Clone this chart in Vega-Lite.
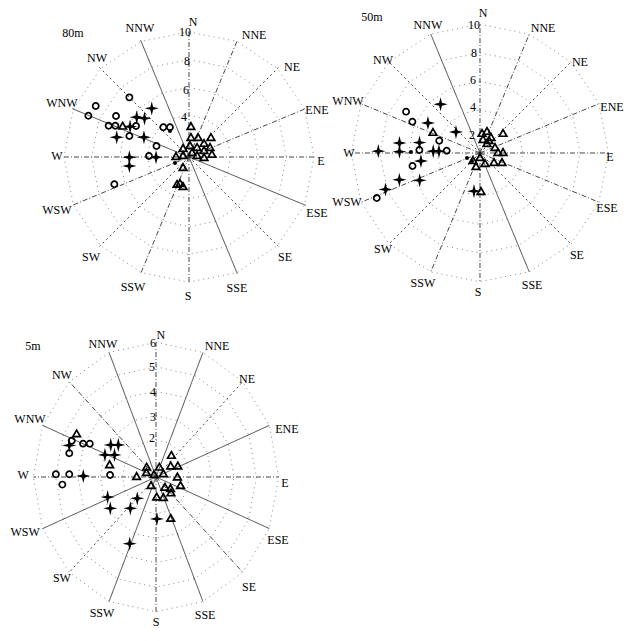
{
"$schema":"https://vega.github.io/schema/vega-lite/v6.json",
"padding":0,
"config":{"view":{"stroke":null},"axis":{"disable":true}},
"datasets":{
"ringAB":[
{"r":1,"i":0,"x":0,"y":1},{"r":1,"i":1,"x":0.383,"y":0.924},{"r":1,"i":2,"x":0.707,"y":0.707},{"r":1,"i":3,"x":0.924,"y":0.383},{"r":1,"i":4,"x":1,"y":0},{"r":1,"i":5,"x":0.924,"y":-0.383},{"r":1,"i":6,"x":0.707,"y":-0.707},{"r":1,"i":7,"x":0.383,"y":-0.924},{"r":1,"i":8,"x":0,"y":-1},{"r":1,"i":9,"x":-0.383,"y":-0.924},{"r":1,"i":10,"x":-0.707,"y":-0.707},{"r":1,"i":11,"x":-0.924,"y":-0.383},{"r":1,"i":12,"x":-1,"y":0},{"r":1,"i":13,"x":-0.924,"y":0.383},{"r":1,"i":14,"x":-0.707,"y":0.707},{"r":1,"i":15,"x":-0.383,"y":0.924},{"r":1,"i":16,"x":0,"y":1},
{"r":3,"i":0,"x":0,"y":3},{"r":3,"i":1,"x":1.148,"y":2.772},{"r":3,"i":2,"x":2.121,"y":2.121},{"r":3,"i":3,"x":2.772,"y":1.148},{"r":3,"i":4,"x":3,"y":0},{"r":3,"i":5,"x":2.772,"y":-1.148},{"r":3,"i":6,"x":2.121,"y":-2.121},{"r":3,"i":7,"x":1.148,"y":-2.772},{"r":3,"i":8,"x":0,"y":-3},{"r":3,"i":9,"x":-1.148,"y":-2.772},{"r":3,"i":10,"x":-2.121,"y":-2.121},{"r":3,"i":11,"x":-2.772,"y":-1.148},{"r":3,"i":12,"x":-3,"y":0},{"r":3,"i":13,"x":-2.772,"y":1.148},{"r":3,"i":14,"x":-2.121,"y":2.121},{"r":3,"i":15,"x":-1.148,"y":2.772},{"r":3,"i":16,"x":0,"y":3},
{"r":5,"i":0,"x":0,"y":5},{"r":5,"i":1,"x":1.913,"y":4.619},{"r":5,"i":2,"x":3.536,"y":3.536},{"r":5,"i":3,"x":4.619,"y":1.913},{"r":5,"i":4,"x":5,"y":0},{"r":5,"i":5,"x":4.619,"y":-1.913},{"r":5,"i":6,"x":3.536,"y":-3.536},{"r":5,"i":7,"x":1.913,"y":-4.619},{"r":5,"i":8,"x":0,"y":-5},{"r":5,"i":9,"x":-1.913,"y":-4.619},{"r":5,"i":10,"x":-3.536,"y":-3.536},{"r":5,"i":11,"x":-4.619,"y":-1.913},{"r":5,"i":12,"x":-5,"y":0},{"r":5,"i":13,"x":-4.619,"y":1.913},{"r":5,"i":14,"x":-3.536,"y":3.536},{"r":5,"i":15,"x":-1.913,"y":4.619},{"r":5,"i":16,"x":0,"y":5},
{"r":7,"i":0,"x":0,"y":7},{"r":7,"i":1,"x":2.679,"y":6.467},{"r":7,"i":2,"x":4.95,"y":4.95},{"r":7,"i":3,"x":6.467,"y":2.679},{"r":7,"i":4,"x":7,"y":0},{"r":7,"i":5,"x":6.467,"y":-2.679},{"r":7,"i":6,"x":4.95,"y":-4.95},{"r":7,"i":7,"x":2.679,"y":-6.467},{"r":7,"i":8,"x":0,"y":-7},{"r":7,"i":9,"x":-2.679,"y":-6.467},{"r":7,"i":10,"x":-4.95,"y":-4.95},{"r":7,"i":11,"x":-6.467,"y":-2.679},{"r":7,"i":12,"x":-7,"y":0},{"r":7,"i":13,"x":-6.467,"y":2.679},{"r":7,"i":14,"x":-4.95,"y":4.95},{"r":7,"i":15,"x":-2.679,"y":6.467},{"r":7,"i":16,"x":0,"y":7},
{"r":9,"i":0,"x":0,"y":9},{"r":9,"i":1,"x":3.444,"y":8.315},{"r":9,"i":2,"x":6.364,"y":6.364},{"r":9,"i":3,"x":8.315,"y":3.444},{"r":9,"i":4,"x":9,"y":0},{"r":9,"i":5,"x":8.315,"y":-3.444},{"r":9,"i":6,"x":6.364,"y":-6.364},{"r":9,"i":7,"x":3.444,"y":-8.315},{"r":9,"i":8,"x":0,"y":-9},{"r":9,"i":9,"x":-3.444,"y":-8.315},{"r":9,"i":10,"x":-6.364,"y":-6.364},{"r":9,"i":11,"x":-8.315,"y":-3.444},{"r":9,"i":12,"x":-9,"y":0},{"r":9,"i":13,"x":-8.315,"y":3.444},{"r":9,"i":14,"x":-6.364,"y":6.364},{"r":9,"i":15,"x":-3.444,"y":8.315},{"r":9,"i":16,"x":0,"y":9}
],
"ringC":[
{"r":1.5,"i":0,"x":0,"y":1.5},{"r":1.5,"i":1,"x":0.574,"y":1.386},{"r":1.5,"i":2,"x":1.061,"y":1.061},{"r":1.5,"i":3,"x":1.386,"y":0.574},{"r":1.5,"i":4,"x":1.5,"y":0},{"r":1.5,"i":5,"x":1.386,"y":-0.574},{"r":1.5,"i":6,"x":1.061,"y":-1.061},{"r":1.5,"i":7,"x":0.574,"y":-1.386},{"r":1.5,"i":8,"x":0,"y":-1.5},{"r":1.5,"i":9,"x":-0.574,"y":-1.386},{"r":1.5,"i":10,"x":-1.061,"y":-1.061},{"r":1.5,"i":11,"x":-1.386,"y":-0.574},{"r":1.5,"i":12,"x":-1.5,"y":0},{"r":1.5,"i":13,"x":-1.386,"y":0.574},{"r":1.5,"i":14,"x":-1.061,"y":1.061},{"r":1.5,"i":15,"x":-0.574,"y":1.386},{"r":1.5,"i":16,"x":0,"y":1.5},
{"r":2.5,"i":0,"x":0,"y":2.5},{"r":2.5,"i":1,"x":0.957,"y":2.31},{"r":2.5,"i":2,"x":1.768,"y":1.768},{"r":2.5,"i":3,"x":2.31,"y":0.957},{"r":2.5,"i":4,"x":2.5,"y":0},{"r":2.5,"i":5,"x":2.31,"y":-0.957},{"r":2.5,"i":6,"x":1.768,"y":-1.768},{"r":2.5,"i":7,"x":0.957,"y":-2.31},{"r":2.5,"i":8,"x":0,"y":-2.5},{"r":2.5,"i":9,"x":-0.957,"y":-2.31},{"r":2.5,"i":10,"x":-1.768,"y":-1.768},{"r":2.5,"i":11,"x":-2.31,"y":-0.957},{"r":2.5,"i":12,"x":-2.5,"y":0},{"r":2.5,"i":13,"x":-2.31,"y":0.957},{"r":2.5,"i":14,"x":-1.768,"y":1.768},{"r":2.5,"i":15,"x":-0.957,"y":2.31},{"r":2.5,"i":16,"x":0,"y":2.5},
{"r":3.5,"i":0,"x":0,"y":3.5},{"r":3.5,"i":1,"x":1.339,"y":3.234},{"r":3.5,"i":2,"x":2.475,"y":2.475},{"r":3.5,"i":3,"x":3.234,"y":1.339},{"r":3.5,"i":4,"x":3.5,"y":0},{"r":3.5,"i":5,"x":3.234,"y":-1.339},{"r":3.5,"i":6,"x":2.475,"y":-2.475},{"r":3.5,"i":7,"x":1.339,"y":-3.234},{"r":3.5,"i":8,"x":0,"y":-3.5},{"r":3.5,"i":9,"x":-1.339,"y":-3.234},{"r":3.5,"i":10,"x":-2.475,"y":-2.475},{"r":3.5,"i":11,"x":-3.234,"y":-1.339},{"r":3.5,"i":12,"x":-3.5,"y":0},{"r":3.5,"i":13,"x":-3.234,"y":1.339},{"r":3.5,"i":14,"x":-2.475,"y":2.475},{"r":3.5,"i":15,"x":-1.339,"y":3.234},{"r":3.5,"i":16,"x":0,"y":3.5},
{"r":4.5,"i":0,"x":0,"y":4.5},{"r":4.5,"i":1,"x":1.722,"y":4.157},{"r":4.5,"i":2,"x":3.182,"y":3.182},{"r":4.5,"i":3,"x":4.157,"y":1.722},{"r":4.5,"i":4,"x":4.5,"y":0},{"r":4.5,"i":5,"x":4.157,"y":-1.722},{"r":4.5,"i":6,"x":3.182,"y":-3.182},{"r":4.5,"i":7,"x":1.722,"y":-4.157},{"r":4.5,"i":8,"x":0,"y":-4.5},{"r":4.5,"i":9,"x":-1.722,"y":-4.157},{"r":4.5,"i":10,"x":-3.182,"y":-3.182},{"r":4.5,"i":11,"x":-4.157,"y":-1.722},{"r":4.5,"i":12,"x":-4.5,"y":0},{"r":4.5,"i":13,"x":-4.157,"y":1.722},{"r":4.5,"i":14,"x":-3.182,"y":3.182},{"r":4.5,"i":15,"x":-1.722,"y":4.157},{"r":4.5,"i":16,"x":0,"y":4.5},
{"r":5.5,"i":0,"x":0,"y":5.5},{"r":5.5,"i":1,"x":2.105,"y":5.081},{"r":5.5,"i":2,"x":3.889,"y":3.889},{"r":5.5,"i":3,"x":5.081,"y":2.105},{"r":5.5,"i":4,"x":5.5,"y":0},{"r":5.5,"i":5,"x":5.081,"y":-2.105},{"r":5.5,"i":6,"x":3.889,"y":-3.889},{"r":5.5,"i":7,"x":2.105,"y":-5.081},{"r":5.5,"i":8,"x":0,"y":-5.5},{"r":5.5,"i":9,"x":-2.105,"y":-5.081},{"r":5.5,"i":10,"x":-3.889,"y":-3.889},{"r":5.5,"i":11,"x":-5.081,"y":-2.105},{"r":5.5,"i":12,"x":-5.5,"y":0},{"r":5.5,"i":13,"x":-5.081,"y":2.105},{"r":5.5,"i":14,"x":-3.889,"y":3.889},{"r":5.5,"i":15,"x":-2.105,"y":5.081},{"r":5.5,"i":16,"x":0,"y":5.5}
],
"spokeA":[
{"d":"N","t":"b","x0":0,"y0":0,"x":0,"y":9.1},{"d":"NNE","t":"b","x0":0,"y0":0,"x":3.483,"y":8.407},{"d":"NE","t":"c","x0":0,"y0":0,"x":6.435,"y":6.435},{"d":"ENE","t":"b","x0":0,"y0":0,"x":8.407,"y":3.483},{"d":"E","t":"b","x0":0,"y0":0,"x":9.1,"y":0},{"d":"ESE","t":"a","x0":0,"y0":0,"x":8.407,"y":-3.483},{"d":"SE","t":"c","x0":0,"y0":0,"x":6.435,"y":-6.435},{"d":"SSE","t":"a","x0":0,"y0":0,"x":3.483,"y":-8.407},{"d":"S","t":"b","x0":0,"y0":0,"x":0,"y":-9.1},{"d":"SSW","t":"b","x0":0,"y0":0,"x":-3.483,"y":-8.407},{"d":"SW","t":"c","x0":0,"y0":0,"x":-6.435,"y":-6.435},{"d":"WSW","t":"b","x0":0,"y0":0,"x":-8.407,"y":-3.483},{"d":"W","t":"b","x0":0,"y0":0,"x":-9.1,"y":0},{"d":"WNW","t":"a","x0":0,"y0":0,"x":-8.407,"y":3.483},{"d":"NW","t":"c","x0":0,"y0":0,"x":-6.435,"y":6.435},{"d":"NNW","t":"a","x0":0,"y0":0,"x":-3.483,"y":8.407}
],
"spokeB":[
{"d":"N","t":"b","x0":0,"y0":0,"x":0,"y":9},{"d":"NNE","t":"b","x0":0,"y0":0,"x":3.444,"y":8.315},{"d":"NE","t":"c","x0":0,"y0":0,"x":6.364,"y":6.364},{"d":"ENE","t":"b","x0":0,"y0":0,"x":8.315,"y":3.444},{"d":"E","t":"b","x0":0,"y0":0,"x":9,"y":0},{"d":"ESE","t":"b","x0":0,"y0":0,"x":8.315,"y":-3.444},{"d":"SE","t":"c","x0":0,"y0":0,"x":6.364,"y":-6.364},{"d":"SSE","t":"a","x0":0,"y0":0,"x":3.444,"y":-8.315},{"d":"S","t":"b","x0":0,"y0":0,"x":0,"y":-9},{"d":"SSW","t":"b","x0":0,"y0":0,"x":-3.444,"y":-8.315},{"d":"SW","t":"c","x0":0,"y0":0,"x":-6.364,"y":-6.364},{"d":"WSW","t":"b","x0":0,"y0":0,"x":-8.315,"y":-3.444},{"d":"W","t":"b","x0":0,"y0":0,"x":-9,"y":0},{"d":"WNW","t":"b","x0":0,"y0":0,"x":-8.315,"y":3.444},{"d":"NW","t":"c","x0":0,"y0":0,"x":-6.364,"y":6.364},{"d":"NNW","t":"a","x0":0,"y0":0,"x":-3.444,"y":8.315}
],
"spokeC":[
{"d":"N","t":"b","x0":0,"y0":0,"x":0,"y":5.5},{"d":"NNE","t":"a","x0":0,"y0":0,"x":2.105,"y":5.081},{"d":"NE","t":"c","x0":0,"y0":0,"x":3.889,"y":3.889},{"d":"ENE","t":"a","x0":0,"y0":0,"x":5.081,"y":2.105},{"d":"E","t":"b","x0":0,"y0":0,"x":5.5,"y":0},{"d":"ESE","t":"a","x0":0,"y0":0,"x":5.081,"y":-2.105},{"d":"SE","t":"b","x0":0,"y0":0,"x":3.889,"y":-3.889},{"d":"SSE","t":"a","x0":0,"y0":0,"x":2.105,"y":-5.081},{"d":"S","t":"b","x0":0,"y0":0,"x":0,"y":-5.5},{"d":"SSW","t":"a","x0":0,"y0":0,"x":-2.105,"y":-5.081},{"d":"SW","t":"c","x0":0,"y0":0,"x":-3.889,"y":-3.889},{"d":"WSW","t":"a","x0":0,"y0":0,"x":-5.081,"y":-2.105},{"d":"W","t":"b","x0":0,"y0":0,"x":-5.5,"y":0},{"d":"WNW","t":"a","x0":0,"y0":0,"x":-5.081,"y":2.105},{"d":"NW","t":"b","x0":0,"y0":0,"x":-3.889,"y":3.889},{"d":"NNW","t":"a","x0":0,"y0":0,"x":-2.105,"y":5.081}
],
"txtA":[
{"k":"d","t":"N","x":0.29,"y":9.71},{"k":"d","t":"NNE","x":4.68,"y":8.78},{"k":"d","t":"NE","x":7.41,"y":6.47},{"k":"d","t":"ENE","x":9.21,"y":3.38},{"k":"d","t":"E","x":9.5,"y":-0.29},{"k":"d","t":"ESE","x":9.21,"y":-4.03},{"k":"d","t":"SE","x":6.91,"y":-7.19},{"k":"d","t":"SSE","x":3.45,"y":-9.42},{"k":"d","t":"S","x":-0.07,"y":-10.0},{"k":"d","t":"SSW","x":-4.03,"y":-9.35},{"k":"d","t":"SW","x":-7.05,"y":-7.19},{"k":"d","t":"WSW","x":-9.5,"y":-3.81},{"k":"d","t":"W","x":-9.5,"y":0.07},{"k":"d","t":"WNW","x":-9.14,"y":3.88},{"k":"d","t":"NW","x":-6.62,"y":7.12},{"k":"d","t":"NNW","x":-3.53,"y":9.28},
{"k":"n","t":"10","x":-0.29,"y":8.99},{"k":"n","t":"8","x":-0.14,"y":6.91},{"k":"n","t":"6","x":-0.22,"y":4.82},{"k":"n","t":"4","x":-0.36,"y":2.88},{"k":"n","t":"80m","x":-8.35,"y":8.92}
],
"txtB":[
{"k":"d","t":"N","x":0.21,"y":9.79},{"k":"d","t":"NNE","x":4.41,"y":8.74},{"k":"d","t":"NE","x":6.99,"y":6.36},{"k":"d","t":"ENE","x":9.23,"y":3.22},{"k":"d","t":"E","x":9.09,"y":-0.28},{"k":"d","t":"ESE","x":8.88,"y":-3.85},{"k":"d","t":"SE","x":6.78,"y":-7.13},{"k":"d","t":"SSE","x":3.64,"y":-9.23},{"k":"d","t":"S","x":-0.14,"y":-9.72},{"k":"d","t":"SSW","x":-3.99,"y":-9.09},{"k":"d","t":"SW","x":-6.78,"y":-6.71},{"k":"d","t":"WSW","x":-9.3,"y":-3.43},{"k":"d","t":"W","x":-9.16,"y":0},{"k":"d","t":"WNW","x":-9.23,"y":3.64},{"k":"d","t":"NW","x":-6.78,"y":6.5},{"k":"d","t":"NNW","x":-3.64,"y":8.95},
{"k":"n","t":"10","x":-0.42,"y":8.95},{"k":"n","t":"8","x":-0.42,"y":6.99},{"k":"n","t":"6","x":-0.49,"y":5.1},{"k":"n","t":"4","x":-0.49,"y":3.22},{"k":"n","t":"2","x":-0.56,"y":1.26},{"k":"n","t":"50m","x":-7.55,"y":9.51}
],
"txtC":[
{"k":"d","t":"N","x":0.22,"y":5.8},{"k":"d","t":"NNE","x":2.74,"y":5.35},{"k":"d","t":"NE","x":4.08,"y":4.0},{"k":"d","t":"ENE","x":5.87,"y":1.96},{"k":"d","t":"E","x":5.78,"y":-0.24},{"k":"d","t":"ESE","x":5.47,"y":-2.57},{"k":"d","t":"SE","x":4.17,"y":-4.49},{"k":"d","t":"SSE","x":2.2,"y":-5.63},{"k":"d","t":"S","x":0,"y":-5.92},{"k":"d","t":"SSW","x":-2.42,"y":-5.55},{"k":"d","t":"SW","x":-4.22,"y":-4.12},{"k":"d","t":"WSW","x":-5.87,"y":-2.24},{"k":"d","t":"W","x":-5.96,"y":0.08},{"k":"d","t":"WNW","x":-5.65,"y":2.37},{"k":"d","t":"NW","x":-4.22,"y":4.16},{"k":"d","t":"NNW","x":-2.38,"y":5.43},
{"k":"n","t":"6","x":-0.13,"y":5.47},{"k":"n","t":"5","x":-0.18,"y":4.49},{"k":"n","t":"4","x":-0.13,"y":3.47},{"k":"n","t":"3","x":-0.13,"y":2.45},{"k":"n","t":"2","x":-0.18,"y":1.59},{"k":"n","t":"5m","x":-5.52,"y":5.35}
],
"ptsA":[
{"s":"o","x":-4.29,"y":4.29},{"s":"o","x":-6.71,"y":3.67},{"s":"o","x":-7.24,"y":2.97},{"s":"o","x":-5.25,"y":2.95},{"s":"o","x":-5.78,"y":2.25},{"s":"o","x":-5.3,"y":2.25},{"s":"o","x":-3.81,"y":2.23},{"s":"o","x":-4.29,"y":1.51},{"s":"o","x":-1.85,"y":2.14},{"s":"o","x":-1.37,"y":2.14},{"s":"o","x":-2.34,"y":0.79},{"s":"o","x":-2.88,"y":0.07},{"s":"o","x":-5.37,"y":-1.96},
{"s":"x","x":-2.68,"y":3.5},{"s":"x","x":-3.76,"y":2.86},{"s":"x","x":-3.2,"y":2.78},{"s":"x","x":-4.24,"y":2.19},{"s":"x","x":-5.2,"y":1.42},{"s":"x","x":-3.24,"y":1.42},{"s":"x","x":-4.29,"y":-0.02},{"s":"x","x":-4.29,"y":-0.65},{"s":"x","x":-2.37,"y":-0.02},
{"s":"t","x":-4.77,"y":2.25},{"s":"t","x":0.14,"y":2.23},{"s":"t","x":0.14,"y":1.44},{"s":"t","x":0.65,"y":1.44},{"s":"t","x":1.58,"y":1.44},{"s":"t","x":1.08,"y":1.01},{"s":"t","x":1.51,"y":0.72},{"s":"t","x":0.58,"y":0.72},{"s":"t","x":1.08,"y":0.5},{"s":"t","x":1.65,"y":0.22},{"s":"t","x":0.58,"y":0.14},{"s":"t","x":1.08,"y":0.0},{"s":"t","x":0.07,"y":0.86},{"s":"t","x":-0.43,"y":0.65},{"s":"t","x":-0.43,"y":0.14},{"s":"t","x":-0.94,"y":0.07},{"s":"t","x":-0.43,"y":-0.72},{"s":"t","x":-0.86,"y":-1.94},{"s":"t","x":-0.65,"y":-1.87},{"s":"t","x":-0.43,"y":-2.09},{"s":"t","x":0.22,"y":0.36},
{"s":"d","x":-1.37,"y":1.87},{"s":"d","x":-1.01,"y":-0.43}
],
"ptsB":[
{"s":"o","x":-5.17,"y":2.89},{"s":"o","x":-4.73,"y":2.19},{"s":"o","x":-2.85,"y":0.86},{"s":"o","x":-4.24,"y":0.21},{"s":"o","x":-2.33,"y":0.16},{"s":"o","x":-4.72,"y":-0.91},{"s":"o","x":-7.22,"y":-3.15},
{"s":"x","x":-2.76,"y":3.41},{"s":"x","x":-3.64,"y":2.1},{"s":"x","x":-1.68,"y":1.47},{"s":"x","x":-5.63,"y":0.7},{"s":"x","x":-4.23,"y":0.73},{"s":"x","x":-7.11,"y":0.13},{"s":"x","x":-5.63,"y":0.09},{"s":"x","x":-4.13,"y":-0.56},{"s":"x","x":-3.27,"y":0.13},{"s":"x","x":-2.87,"y":0.13},{"s":"x","x":-5.64,"y":-1.87},{"s":"x","x":-4.22,"y":-1.91},{"s":"x","x":-6.61,"y":-2.55},{"s":"x","x":-0.42,"y":-2.67},
{"s":"t","x":-3.29,"y":1.47},{"s":"t","x":0.14,"y":1.4},{"s":"t","x":0.49,"y":1.54},{"s":"t","x":0.77,"y":1.12},{"s":"t","x":0.21,"y":0.98},{"s":"t","x":1.61,"y":1.4},{"s":"t","x":0.49,"y":0.7},{"s":"t","x":1.05,"y":0.42},{"s":"t","x":1.26,"y":0.07},{"s":"t","x":1.61,"y":0.07},{"s":"t","x":0.98,"y":-0.63},{"s":"t","x":1.54,"y":-0.63},{"s":"t","x":0,"y":-0.28},{"s":"t","x":-0.49,"y":-0.49},{"s":"t","x":-0.28,"y":-0.91},{"s":"t","x":0.35,"y":-0.7},{"s":"t","x":0.07,"y":-2.66},{"s":"t","x":0.63,"y":0.91},
{"s":"d","x":-0.91,"y":-0.35},{"s":"d","x":-0.56,"y":-0.56},{"s":"d","x":-4.83,"y":0.07}
],
"ptsC":[
{"s":"o","x":-3.78,"y":1.48},{"s":"o","x":-3.27,"y":1.36},{"s":"o","x":-2.97,"y":1.36},{"s":"o","x":-3.89,"y":0.97},{"s":"o","x":-4.49,"y":0.11},{"s":"o","x":-3.89,"y":0.11},{"s":"o","x":-4.2,"y":-0.31},{"s":"o","x":-2.06,"y":0.08},
{"s":"x","x":-3.89,"y":1.29},{"s":"x","x":-2.03,"y":1.31},{"s":"x","x":-1.69,"y":1.31},{"s":"x","x":-2.29,"y":0.9},{"s":"x","x":-1.86,"y":0.9},{"s":"x","x":-3.26,"y":0.04},{"s":"x","x":-2.17,"y":-0.82},{"s":"x","x":-2.05,"y":-1.28},{"s":"x","x":-0.84,"y":-0.87},{"s":"x","x":-1.15,"y":-1.28},{"s":"x","x":0.04,"y":-1.71},{"s":"x","x":-1.18,"y":-2.72},
{"s":"t","x":-3.56,"y":1.78},{"s":"t","x":-2.08,"y":0.52},{"s":"t","x":-0.87,"y":0.04},{"s":"t","x":-0.43,"y":0.2},{"s":"t","x":-0.42,"y":0.42},{"s":"t","x":-0.09,"y":0.12},{"s":"t","x":0.15,"y":0.42},{"s":"t","x":0.33,"y":0.15},{"s":"t","x":-0.22,"y":-0.33},{"s":"t","x":0.69,"y":0.9},{"s":"t","x":0.66,"y":0.47},{"s":"t","x":0.98,"y":0.47},{"s":"t","x":0.96,"y":0.02},{"s":"t","x":1.1,"y":-0.33},{"s":"t","x":0.4,"y":-0.4},{"s":"t","x":0.65,"y":-0.45},{"s":"t","x":0.67,"y":-0.63},{"s":"t","x":0.03,"y":-0.8},{"s":"t","x":0.33,"y":-0.82},{"s":"t","x":0.66,"y":-1.67}
]
},
"columns":2,
"spacing":0,
"bounds":"flush",
"resolve":{"scale":{"x":"independent","y":"independent"}},
"concat":[
{"width":335,"height":316,"layer":[
{"data":{"name":"ringAB"},"mark":{"type":"line","stroke":"#888","strokeWidth":1,"strokeDash":[1,4]},"encoding":{"x":{"field":"x","type":"quantitative","scale":{"domain":[-13.597,10.504],"nice":false,"zero":false},"axis":null},"y":{"field":"y","type":"quantitative","scale":{"domain":[-11.439,11.295],"nice":false,"zero":false},"axis":null},"detail":{"field":"r","type":"nominal"},"order":{"field":"i","type":"quantitative"}}},
{"data":{"name":"spokeA"},"mark":{"type":"rule","color":"#333","strokeWidth":0.9},"encoding":{"x":{"field":"x0","type":"quantitative"},"y":{"field":"y0","type":"quantitative"},"x2":{"field":"x"},"y2":{"field":"y"},"strokeDash":{"field":"t","type":"nominal","scale":{"domain":["a","b","c"],"range":[[1,0],[5,2,1,2],[2,3]]},"legend":null}}},
{"data":{"name":"txtA"},"transform":[{"filter":"datum.k=='d'"}],"mark":{"type":"text","font":"Liberation Serif","fontSize":12,"color":"#000"},"encoding":{"x":{"field":"x","type":"quantitative"},"y":{"field":"y","type":"quantitative"},"text":{"field":"t"}}},
{"data":{"name":"txtA"},"transform":[{"filter":"datum.k=='n'"}],"mark":{"type":"text","font":"Liberation Serif","fontSize":12,"color":"#000"},"encoding":{"x":{"field":"x","type":"quantitative"},"y":{"field":"y","type":"quantitative"},"text":{"field":"t"}}},
{"data":{"name":"ptsA"},"transform":[{"filter":"datum.s=='o'"}],"mark":{"type":"point","shape":"circle","filled":false,"stroke":"#000","strokeWidth":1.7,"size":38,"opacity":1},"encoding":{"x":{"field":"x","type":"quantitative"},"y":{"field":"y","type":"quantitative"}}},
{"data":{"name":"ptsA"},"transform":[{"filter":"datum.s=='x'"}],"mark":{"type":"point","shape":"M0,-1L0.2,-0.2L1,0L0.2,0.2L0,1L-0.2,0.2L-1,0L-0.2,-0.2Z","filled":true,"fill":"#000","size":200,"opacity":1},"encoding":{"x":{"field":"x","type":"quantitative"},"y":{"field":"y","type":"quantitative"}}},
{"data":{"name":"ptsA"},"transform":[{"filter":"datum.s=='t'"}],"mark":{"type":"point","shape":"triangle-up","filled":false,"stroke":"#000","strokeWidth":1.7,"size":58,"opacity":1},"encoding":{"x":{"field":"x","type":"quantitative"},"y":{"field":"y","type":"quantitative"}}},
{"data":{"name":"ptsA"},"transform":[{"filter":"datum.s=='d'"}],"mark":{"type":"circle","size":16,"color":"#000","opacity":1},"encoding":{"x":{"field":"x","type":"quantitative"},"y":{"field":"y","type":"quantitative"}}}
]},
{"width":293,"height":316,"layer":[
{"data":{"name":"ringAB"},"mark":{"type":"line","stroke":"#888","strokeWidth":1,"strokeDash":[1,4]},"encoding":{"x":{"field":"x","type":"quantitative","scale":{"domain":[-10.14,10.35],"nice":false,"zero":false},"axis":null},"y":{"field":"y","type":"quantitative","scale":{"domain":[-11.399,10.699],"nice":false,"zero":false},"axis":null},"detail":{"field":"r","type":"nominal"},"order":{"field":"i","type":"quantitative"}}},
{"data":{"name":"spokeB"},"mark":{"type":"rule","color":"#333","strokeWidth":0.9},"encoding":{"x":{"field":"x0","type":"quantitative"},"y":{"field":"y0","type":"quantitative"},"x2":{"field":"x"},"y2":{"field":"y"},"strokeDash":{"field":"t","type":"nominal","scale":{"domain":["a","b","c"],"range":[[1,0],[5,2,1,2],[2,3]]},"legend":null}}},
{"data":{"name":"txtB"},"transform":[{"filter":"datum.k=='d'"}],"mark":{"type":"text","font":"Liberation Serif","fontSize":12,"color":"#000"},"encoding":{"x":{"field":"x","type":"quantitative"},"y":{"field":"y","type":"quantitative"},"text":{"field":"t"}}},
{"data":{"name":"txtB"},"transform":[{"filter":"datum.k=='n'"}],"mark":{"type":"text","font":"Liberation Serif","fontSize":12,"color":"#000"},"encoding":{"x":{"field":"x","type":"quantitative"},"y":{"field":"y","type":"quantitative"},"text":{"field":"t"}}},
{"data":{"name":"ptsB"},"transform":[{"filter":"datum.s=='o'"}],"mark":{"type":"point","shape":"circle","filled":false,"stroke":"#000","strokeWidth":1.7,"size":38,"opacity":1},"encoding":{"x":{"field":"x","type":"quantitative"},"y":{"field":"y","type":"quantitative"}}},
{"data":{"name":"ptsB"},"transform":[{"filter":"datum.s=='x'"}],"mark":{"type":"point","shape":"M0,-1L0.2,-0.2L1,0L0.2,0.2L0,1L-0.2,0.2L-1,0L-0.2,-0.2Z","filled":true,"fill":"#000","size":200,"opacity":1},"encoding":{"x":{"field":"x","type":"quantitative"},"y":{"field":"y","type":"quantitative"}}},
{"data":{"name":"ptsB"},"transform":[{"filter":"datum.s=='t'"}],"mark":{"type":"point","shape":"triangle-up","filled":false,"stroke":"#000","strokeWidth":1.7,"size":58,"opacity":1},"encoding":{"x":{"field":"x","type":"quantitative"},"y":{"field":"y","type":"quantitative"}}},
{"data":{"name":"ptsB"},"transform":[{"filter":"datum.s=='d'"}],"mark":{"type":"circle","size":16,"color":"#000","opacity":1},"encoding":{"x":{"field":"x","type":"quantitative"},"y":{"field":"y","type":"quantitative"}}}
]},
{"width":335,"height":325,"layer":[
{"data":{"name":"ringC"},"mark":{"type":"line","stroke":"#888","strokeWidth":1,"strokeDash":[1,4]},"encoding":{"x":{"field":"x","type":"quantitative","scale":{"domain":[-6.996,8.027],"nice":false,"zero":false},"axis":null},"y":{"field":"y","type":"quantitative","scale":{"domain":[-6.694,6.571],"nice":false,"zero":false},"axis":null},"detail":{"field":"r","type":"nominal"},"order":{"field":"i","type":"quantitative"}}},
{"data":{"name":"spokeC"},"mark":{"type":"rule","color":"#333","strokeWidth":0.9},"encoding":{"x":{"field":"x0","type":"quantitative"},"y":{"field":"y0","type":"quantitative"},"x2":{"field":"x"},"y2":{"field":"y"},"strokeDash":{"field":"t","type":"nominal","scale":{"domain":["a","b","c"],"range":[[1,0],[5,2,1,2],[2,3]]},"legend":null}}},
{"data":{"name":"txtC"},"transform":[{"filter":"datum.k=='d'"}],"mark":{"type":"text","font":"Liberation Serif","fontSize":12,"color":"#000"},"encoding":{"x":{"field":"x","type":"quantitative"},"y":{"field":"y","type":"quantitative"},"text":{"field":"t"}}},
{"data":{"name":"txtC"},"transform":[{"filter":"datum.k=='n'"}],"mark":{"type":"text","font":"Liberation Serif","fontSize":12,"color":"#000"},"encoding":{"x":{"field":"x","type":"quantitative"},"y":{"field":"y","type":"quantitative"},"text":{"field":"t"}}},
{"data":{"name":"ptsC"},"transform":[{"filter":"datum.s=='o'"}],"mark":{"type":"point","shape":"circle","filled":false,"stroke":"#000","strokeWidth":1.7,"size":38,"opacity":1},"encoding":{"x":{"field":"x","type":"quantitative"},"y":{"field":"y","type":"quantitative"}}},
{"data":{"name":"ptsC"},"transform":[{"filter":"datum.s=='x'"}],"mark":{"type":"point","shape":"M0,-1L0.2,-0.2L1,0L0.2,0.2L0,1L-0.2,0.2L-1,0L-0.2,-0.2Z","filled":true,"fill":"#000","size":200,"opacity":1},"encoding":{"x":{"field":"x","type":"quantitative"},"y":{"field":"y","type":"quantitative"}}},
{"data":{"name":"ptsC"},"transform":[{"filter":"datum.s=='t'"}],"mark":{"type":"point","shape":"triangle-up","filled":false,"stroke":"#000","strokeWidth":1.7,"size":58,"opacity":1},"encoding":{"x":{"field":"x","type":"quantitative"},"y":{"field":"y","type":"quantitative"}}}
]}
]
}
